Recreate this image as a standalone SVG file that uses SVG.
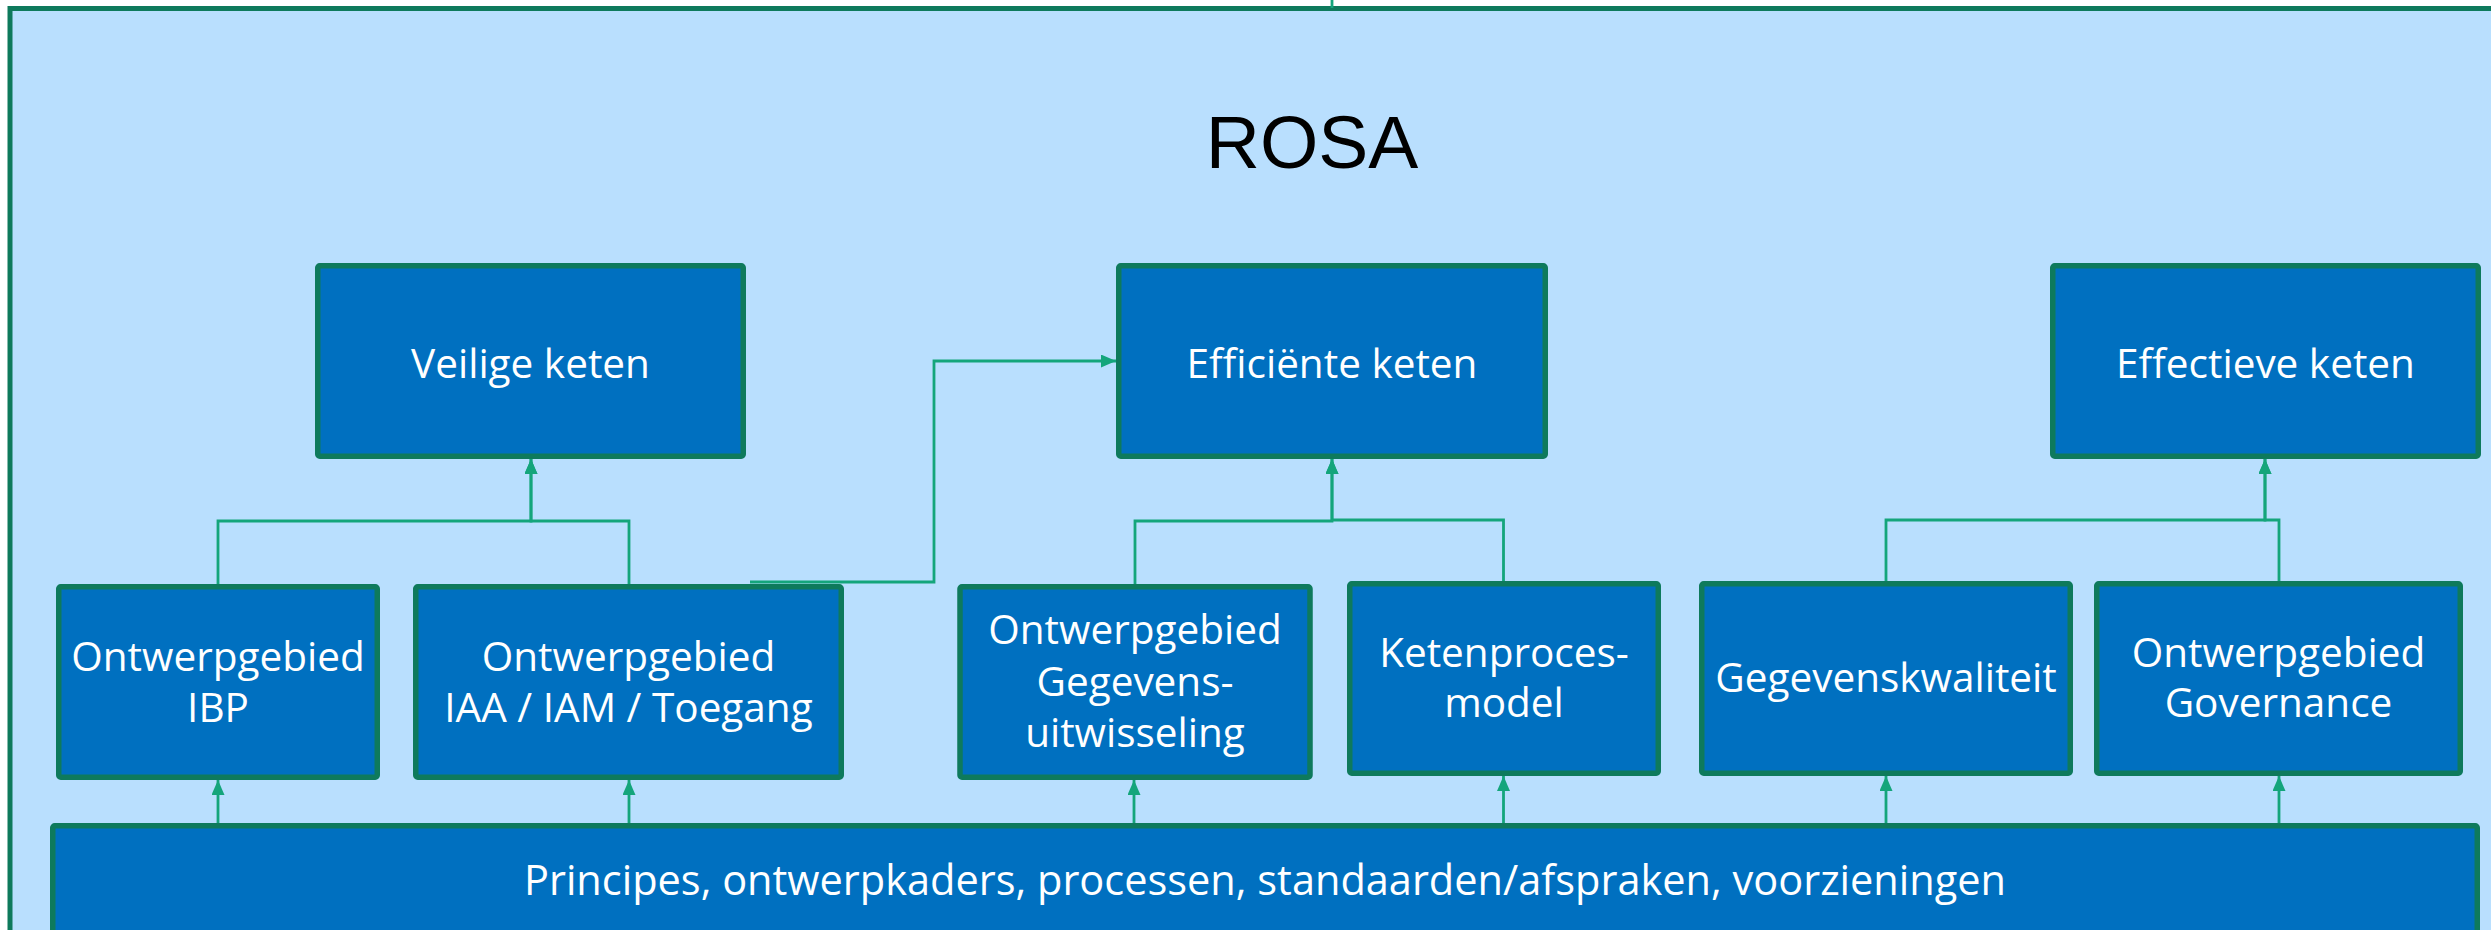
<svg xmlns="http://www.w3.org/2000/svg" width="2491" height="930" viewBox="0 0 2491 930">
<style>
.node rect{fill:#0070C0;stroke:#0E7A5C;stroke-width:5.5}
.node text{fill:#FFFFFF;font-family:"Open Sans","Noto Sans","Liberation Sans",sans-serif;font-size:40.5px;text-anchor:middle}
#principes text{font-size:41.5px}
.conn path{fill:none;stroke:#14A57B;stroke-width:2.8}
.title{fill:#000000;font-family:"Liberation Sans",Arial,sans-serif;font-size:75px;text-anchor:middle}
</style>
<defs>
<marker id="arr" viewBox="0 0 15 13" refX="15" refY="6.5" markerWidth="15" markerHeight="13" markerUnits="userSpaceOnUse" orient="auto">
<path d="M0,0 L15,6.5 L0,13 z" fill="#14A57B"/>
</marker>
</defs>
<rect x="0" y="0" width="2491" height="930" fill="#FFFFFF"/>
<g id="rosa">
<rect x="10" y="8.5" width="2500" height="940" fill="#B9DFFE" stroke="#0E7A5C" stroke-width="5"/>
<text class="title" x="1312" y="168">ROSA</text>
</g>
<g id="veilige" class="node"><rect x="317.75" y="265.75" width="425.5" height="190.5" rx="2"/><text x="530.5" y="378">Veilige keten</text></g>
<g id="efficiente" class="node"><rect x="1118.75" y="265.75" width="426.5" height="190.5" rx="2"/><text x="1332" y="378">Efficiënte keten</text></g>
<g id="effectieve" class="node"><rect x="2052.75" y="265.75" width="425.5" height="190.5" rx="2"/><text x="2265.5" y="378">Effectieve keten</text></g>
<g id="ibp" class="node"><rect x="58.75" y="586.75" width="318.5" height="190.5" rx="2"/><text x="218" y="671">Ontwerpgebied</text><text x="218" y="722">IBP</text></g>
<g id="iaa" class="node"><rect x="415.75" y="586.75" width="425.5" height="190.5" rx="2"/><text x="628.5" y="671">Ontwerpgebied</text><text x="628.5" y="722">IAA / IAM / Toegang</text></g>
<g id="gegevensuitwisseling" class="node"><rect x="960" y="586.75" width="350" height="190.5" rx="2"/><text x="1135" y="644">Ontwerpgebied</text><text x="1135" y="696">Gegevens-</text><text x="1135" y="747">uitwisseling</text></g>
<g id="ketenproces" class="node"><rect x="1349.75" y="583.75" width="308.5" height="189.5" rx="2"/><text x="1504" y="667">Ketenproces-</text><text x="1504" y="717">model</text></g>
<g id="gegevenskwaliteit" class="node"><rect x="1701.75" y="583.75" width="368.5" height="189.5" rx="2"/><text x="1886" y="692">Gegevenskwaliteit</text></g>
<g id="governance" class="node"><rect x="2096.75" y="583.75" width="363.5" height="189.5" rx="2"/><text x="2278.5" y="667">Ontwerpgebied</text><text x="2278.5" y="717">Governance</text></g>
<g id="principes" class="node"><rect x="52.75" y="825.75" width="2424.5" height="130" rx="2"/><text x="1265" y="895">Principes, ontwerpkaders, processen, standaarden/afspraken, voorzieningen</text></g>
<g id="connectors" class="conn">
<path d="M1332,0 V8"/>
<path d="M218,584 V521 H531 V459" marker-end="url(#arr)"/>
<path d="M629,584 V521 H531 V459" marker-end="url(#arr)"/>
<path d="M750,582 H934 V361 H1116" marker-end="url(#arr)"/>
<path d="M1135,584 V521 H1332 V459" marker-end="url(#arr)"/>
<path d="M1503.5,581 V520 H1332 V459" marker-end="url(#arr)"/>
<path d="M1886,581 V520 H2265 V459" marker-end="url(#arr)"/>
<path d="M2279,581 V520 H2265 V459" marker-end="url(#arr)"/>
<path d="M218,823 V780" marker-end="url(#arr)"/>
<path d="M629,823 V780" marker-end="url(#arr)"/>
<path d="M1134,823 V780" marker-end="url(#arr)"/>
<path d="M1503.5,823 V776" marker-end="url(#arr)"/>
<path d="M1886,823 V776" marker-end="url(#arr)"/>
<path d="M2279,823 V776" marker-end="url(#arr)"/>
</g>
</svg>
